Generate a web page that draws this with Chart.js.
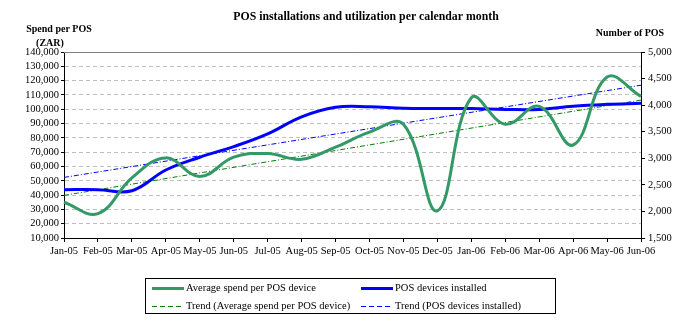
<!DOCTYPE html>
<html>
<head>
<meta charset="utf-8">
<script src="https://cdn.jsdelivr.net/npm/chart.js@4/dist/chart.umd.min.js"></script>
<style>
  html, body { margin: 0; padding: 0; background: #fff; }
  #wrap { position: relative; width: 696px; height: 328px; overflow: hidden; }
  #chart { position: absolute; left: 0; top: 0; }
  .legend {
    position: absolute; left: 145px; top: 278px; width: 411px; height: 36px;
    border: 1px solid #000; box-sizing: border-box;
    font-family: "Liberation Serif", "Times New Roman", serif; font-size: 10.5px; color: #000;
  }
  .item { position: absolute; height: 12px; line-height: 12px; white-space: nowrap; }
  .sample { display: inline-block; width: 32px; vertical-align: middle; margin-right: 2px; }
  .dash { height: 1px; }
  .dash.green { background: repeating-linear-gradient(to right, #008000 0 5px, transparent 5px 8px); }
  .dash.blue { background: repeating-linear-gradient(to right, #0000ff 0 5px, transparent 5px 8px); }
</style>
</head>
<body>
<div id="wrap">
  <canvas id="chart" width="696" height="328"></canvas>
  <div class="legend">
    <div class="item" style="left:6px; top:3px;"><span class="sample" style="border-top:3px solid #339966;"></span>Average spend per POS device</div>
    <div class="item" style="left:215px; top:3px;"><span class="sample" style="border-top:3px solid #0000ff;"></span>POS devices installed</div>
    <div class="item" style="left:6px; top:21px;"><span class="sample dash green"></span>Trend (Average spend per POS device)</div>
    <div class="item" style="left:215px; top:21px;"><span class="sample dash blue"></span>Trend (POS devices installed)</div>
  </div>
</div>
<script>
// Calendar months on the x axis
const months = ['Jan-05','Feb-05','Mar-05','Apr-05','May-05','Jun-05','Jul-05','Aug-05','Sep-05',
                'Oct-05','Nov-05','Dec-05','Jan-06','Feb-06','Mar-06','Apr-06','May-06','Jun-06'];

// Average spend per POS device (ZAR), left axis
const avgSpend = [35000, 27000, 52000, 66000, 53000, 66500, 69000, 65000, 73500,
                  84000, 89500, 29000, 108000, 89500, 102000, 75000, 122500, 109000];

// Number of POS devices installed, right axis
const posInstalled = [2410, 2410, 2390, 2780, 3020, 3220, 3460, 3780, 3960,
                      3970, 3940, 3935, 3935, 3920, 3920, 3980, 4015, 4035];

// Linear trend lines: value at first and last month
const spendTrendEnds = [39800, 106400];
const posTrendEnds = [2640, 4375];

// Axis ranges
const spendAxis = { min: 10000, max: 140000, step: 10000 };
const posAxis = { min: 1500, max: 5000, step: 500 };

const FONT = '"Liberation Serif", "Times New Roman", serif';
const fmt = new Intl.NumberFormat('en-US');

function endsToSeries(ends) {
  return months.map((m, i) => i === 0 ? ends[0] : (i === months.length - 1 ? ends[1] : null));
}

const textPlugin = {
  id: 'texts',
  beforeDatasetsDraw(chart) {
    const { ctx, chartArea } = chart;
    ctx.save();
    ctx.strokeStyle = '#808080';
    ctx.lineWidth = 1;
    ctx.beginPath();
    ctx.moveTo(chartArea.left, chartArea.top + 0.5);
    ctx.lineTo(chartArea.right, chartArea.top + 0.5);
    ctx.stroke();
    ctx.restore();
  },
  afterDraw(chart) {
    const { ctx } = chart;
    ctx.save();
    ctx.fillStyle = '#000';
    ctx.textBaseline = 'middle';
    ctx.textAlign = 'center';
    ctx.font = 'bold 11.8px ' + FONT;
    ctx.fillText('POS installations and utilization per calendar month', 366, 17);
    ctx.font = 'bold 10px ' + FONT;
    ctx.fillText('Spend per POS', 59, 29);
    ctx.fillText('(ZAR)', 50, 43);
    ctx.fillText('Number of POS', 630, 33);
    ctx.restore();
  }
};

new Chart(document.getElementById('chart'), {
  type: 'line',
  data: {
    labels: months,
    datasets: [
      {
        label: 'Average spend per POS device',
        data: avgSpend, yAxisID: 'y',
        borderColor: '#339966', borderWidth: 3, tension: 0.4,
        pointRadius: 0, fill: false
      },
      {
        label: 'POS devices installed',
        data: posInstalled, yAxisID: 'y1',
        borderColor: '#0000ff', borderWidth: 3, tension: 0.4,
        pointRadius: 0, fill: false
      },
      {
        label: 'Trend (Average spend per POS device)',
        data: endsToSeries(spendTrendEnds), yAxisID: 'y', spanGaps: true,
        borderColor: '#008000', borderWidth: 1, borderDash: [5, 2, 1, 2],
        pointRadius: 0, fill: false, tension: 0
      },
      {
        label: 'Trend (POS devices installed)',
        data: endsToSeries(posTrendEnds), yAxisID: 'y1', spanGaps: true,
        borderColor: '#0000ff', borderWidth: 1, borderDash: [5, 2, 1, 2],
        pointRadius: 0, fill: false, tension: 0
      }
    ]
  },
  options: {
    responsive: false,
    animation: false,
    devicePixelRatio: 1,
    layout: { padding: { top: 52, left: 0, right: 0, bottom: 0 } },
    plugins: { legend: { display: false }, title: { display: false }, tooltip: { enabled: false } },
    scales: {
      x: {
        type: 'category', offset: false,
        grid: { drawOnChartArea: false, drawTicks: true, tickLength: 4, tickColor: '#000' },
        border: { color: '#000', width: 1 },
        ticks: { color: '#000', font: { family: FONT, size: 10.5 }, maxRotation: 0, autoSkip: false, padding: 3 },
        afterFit(s) { s.height = 90; }
      },
      y: {
        position: 'left', min: spendAxis.min, max: spendAxis.max,
        ticks: { stepSize: spendAxis.step, autoSkip: false, color: '#000', font: { family: FONT, size: 10.5 }, padding: 2,
                 callback: v => fmt.format(v) },
        grid: { color: '#c0c0c0', tickColor: '#000', tickLength: 3 },
        border: { color: '#000', width: 1, dash: [4, 3] },
        afterFit(s) { s.width = 64; }
      },
      y1: {
        position: 'right', min: posAxis.min, max: posAxis.max,
        ticks: { stepSize: posAxis.step, autoSkip: false, color: '#000', font: { family: FONT, size: 10.5 }, padding: 3,
                 callback: v => fmt.format(v) },
        grid: { drawOnChartArea: false, tickColor: '#000', tickLength: 4 },
        border: { color: '#000', width: 1 },
        afterFit(s) { s.width = 55; }
      }
    }
  },
  plugins: [textPlugin]
});
</script>
</body>
</html>
